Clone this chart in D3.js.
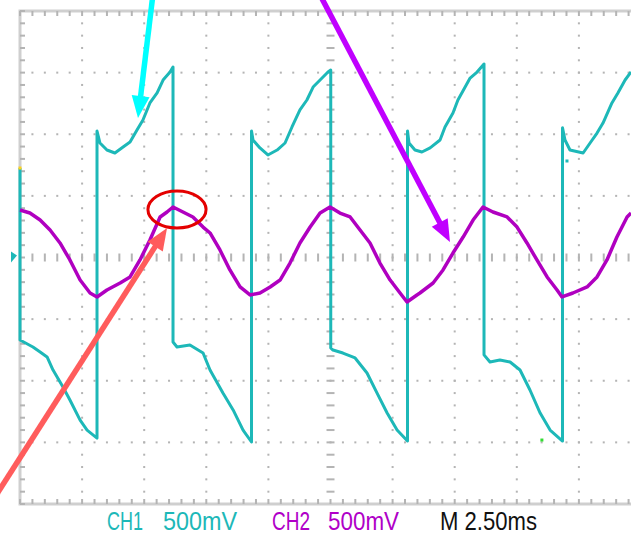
<!DOCTYPE html>
<html>
<head>
<meta charset="utf-8">
<script src="https://cdn.jsdelivr.net/npm/d3@7"></script>
<style>
  html, body { margin: 0; padding: 0; background: #fff; }
  svg { display: block; }
  .label { font-family: "Liberation Sans", Arial, sans-serif; font-size: 26px; }
</style>
</head>
<body>
<div id="scope"></div>
<script>
// screen: 10 div x 2.5 ms, 8 div x 500 mV
const timePerDiv = 2.5;      // ms
const voltPerDiv = 500;      // mV
const divsX = 10, divsY = 8, minorPerDiv = 5;

// CH1 trace, [ms, mV]
const ch1 = [
  [0, 726], [0, -669], [0.52, -726], [0.81, -767], [1.09, -807], [1.33, -913], [1.73, -1051], [2.01, -1156], [2.42, -1319], [2.70, -1400], [3.10, -1465],
  [3.10, 1026], [3.22, 929], [3.50, 872], [3.82, 848], [4.15, 897], [4.43, 937], [4.71, 1035], [4.95, 1116], [5.23, 1254], [5.52, 1335], [5.76, 1440], [6.04, 1505], [6.16, 1546],
  [6.16, -686], [6.32, -726], [6.84, -710], [7.37, -775], [7.65, -913], [8.17, -1099], [8.58, -1237], [8.98, -1400], [9.32, -1497],
  [9.32, 1026], [9.38, 953], [9.66, 889], [9.98, 832], [10.35, 872], [10.67, 929], [10.95, 1059], [11.27, 1197], [11.55, 1278], [11.80, 1383], [12.08, 1440], [12.40, 1505], [12.51, 1521],
  [12.51, -734], [12.60, -751], [13.00, -775], [13.49, -815], [13.97, -937], [14.37, -1099], [14.78, -1262], [15.18, -1400], [15.60, -1489],
  [15.60, 1026], [15.66, 929], [15.90, 872], [16.18, 856], [16.51, 889], [16.91, 953], [17.11, 1059], [17.43, 1172], [17.63, 1278], [17.92, 1383], [18.12, 1456], [18.40, 1505], [18.68, 1570],
  [18.68, -790], [18.92, -848], [19.32, -832], [19.73, -848], [20.13, -913], [20.53, -1075], [20.94, -1262], [21.34, -1400], [21.84, -1489],
  [21.84, 1053], [21.94, 953], [22.14, 872], [22.67, 848], [22.95, 929], [23.23, 1010], [23.47, 1091], [23.83, 1254], [24.07, 1335], [24.36, 1440], [24.60, 1505]
];

// CH2 trace, [ms, mV]
const ch2 = [
  [0, 385], [0.40, 361], [0.81, 304], [1.21, 223], [1.61, 118], [2.01, -20], [2.42, -183], [2.82, -288], [3.10, -320],
  [3.50, -264], [4.03, -207], [4.43, -158], [4.83, -20], [5.23, 142], [5.64, 329], [5.92, 369], [6.16, 410],
  [6.56, 369], [6.96, 329], [7.37, 247], [7.65, 199], [8.05, 61], [8.45, -101], [8.86, -239], [9.26, -304],
  [9.66, -288], [10.07, -239], [10.47, -183], [10.87, -45], [11.27, 118], [11.68, 247], [12.08, 361], [12.48, 410],
  [12.88, 361], [13.29, 329], [13.69, 223], [14.09, 118], [14.49, -45], [14.90, -183], [15.30, -288], [15.58, -361],
  [15.98, -304], [16.10, -288], [16.63, -207], [17.03, -101], [17.43, 36], [17.84, 166], [18.24, 304], [18.64, 410],
  [19.04, 369], [19.61, 329], [20.01, 247], [20.41, 118], [20.81, -20], [21.22, -158], [21.62, -264], [21.82, -320],
  [22.26, -288], [22.83, -239], [23.23, -158], [23.63, -20], [24.03, 166], [24.44, 329], [24.60, 361]
];

// stray pixels on the screen, [ms, mV, channel]
const strayDots = [[21.01, -1481, "green"], [22.02, 783, "ch1"]];

// footer readouts
const footerLabels = ["CH1", "500mV", "CH2", "500mV", "M 2.50ms"];

// annotation arrows, [from, to] in [ms, mV]
const arrows = [
  { from: [5.35, 2130], to: [4.75, 1132], color: "#00ffff" },
  { from: [12.08, 2130], to: [17.31, 126], color: "#c000ff" },
  { from: [-1.01, -1943], to: [5.92, 239], color: "#ff5c5c" }
];
const circled = { at: [6.32, 389], rx: 1.17, ry: 150 };

const W = 631, H = 535;
const C1 = "#1db8b8", C2 = "#b000c0", GRID = "#b4b4b4";

const x = d3.scaleLinear().domain([0, divsX * timePerDiv]).range([20, 641]);
const y = d3.scaleLinear().domain([-divsY / 2 * voltPerDiv, divsY / 2 * voltPerDiv]).range([504, 11]);

const svg = d3.select('#scope').append('svg')
  .attr('width', W).attr('height', H)
  .attr('viewBox', `0 0 ${W} ${H}`);

svg.append('rect').attr('width', W).attr('height', H).attr('fill', '#fff');

const grid = svg.append('g');
const minorT = timePerDiv / minorPerDiv, minorV = voltPerDiv / minorPerDiv;
const tMinor = d3.range(0, divsX * minorPerDiv + 1).map(i => i * minorT);
const vMinor = d3.range(-divsY / 2 * minorPerDiv, divsY / 2 * minorPerDiv + 1).map(i => i * minorV);

// dotted major lines
for (let i = 1; i < divsX; i++) {
  if (i === divsX / 2) continue;
  vMinor.forEach(v => grid.append('rect')
    .attr('x', x(i * timePerDiv) - 1).attr('y', y(v) - 1)
    .attr('width', 2).attr('height', 2).attr('fill', GRID));
}
for (let j = -divsY / 2 + 1; j < divsY / 2; j++) {
  if (j === 0) continue;
  tMinor.forEach(t => grid.append('rect')
    .attr('x', x(t) - 1).attr('y', y(j * voltPerDiv) - 1)
    .attr('width', 2).attr('height', 2).attr('fill', GRID));
}

// centre axes with minor dashes
const xc = x(divsX / 2 * timePerDiv), yc = y(0);
vMinor.forEach(v => grid.append('line')
  .attr('x1', xc - 4).attr('x2', xc + 4).attr('y1', y(v)).attr('y2', y(v))
  .attr('stroke', GRID).attr('stroke-width', 2));
tMinor.forEach(t => grid.append('line')
  .attr('x1', x(t)).attr('x2', x(t)).attr('y1', yc - 4).attr('y2', yc + 4)
  .attr('stroke', GRID).attr('stroke-width', 2));

// border with ticks
grid.append('rect')
  .attr('x', x(0)).attr('y', y(divsY / 2 * voltPerDiv))
  .attr('width', x(divsX * timePerDiv) - x(0))
  .attr('height', y(-divsY / 2 * voltPerDiv) - y(divsY / 2 * voltPerDiv))
  .attr('fill', 'none').attr('stroke', '#cfcfcf').attr('stroke-width', 3);
tMinor.forEach(t => {
  grid.append('line').attr('x1', x(t)).attr('x2', x(t)).attr('y1', y(2000)).attr('y2', y(2000) + 5)
    .attr('stroke', GRID).attr('stroke-width', 2);
  grid.append('line').attr('x1', x(t)).attr('x2', x(t)).attr('y1', y(-2000)).attr('y2', y(-2000) - 5)
    .attr('stroke', GRID).attr('stroke-width', 2);
});
vMinor.forEach(v => grid.append('line')
  .attr('x1', x(0)).attr('x2', x(0) + 5).attr('y1', y(v)).attr('y2', y(v))
  .attr('stroke', GRID).attr('stroke-width', 2));

// traces
const line = d3.line().x(d => x(d[0])).y(d => y(d[1]));
svg.append('path').datum(ch1).attr('d', line)
  .attr('fill', 'none').attr('stroke', C1).attr('stroke-width', 3)
  .attr('stroke-linejoin', 'round');
svg.append('path').datum(ch2).attr('d', line)
  .attr('fill', 'none').attr('stroke', C2).attr('stroke-width', 3.5)
  .attr('stroke-linejoin', 'round');

strayDots.forEach(d => svg.append('rect')
  .attr('x', x(d[0]) - 1.5).attr('y', y(d[1]) - 1.5).attr('width', 3).attr('height', 3)
  .attr('fill', d[2] === 'green' ? '#33dd33' : C1));

// channel marker and trigger point on the left edge
svg.append('path')
  .attr('d', `M${x(0) - 9},${y(0) - 6} L${x(0) - 3},${y(0) - 2} L${x(0) - 9},${y(0) + 5} Z`)
  .attr('fill', C1);
svg.append('rect').attr('x', x(0) - 1.5).attr('y', y(ch1[0][1]) - 1.5)
  .attr('width', 3).attr('height', 3).attr('fill', '#ffd21a');

// footer text
const footerX = [107, 163, 272, 328, 440];
const footerLen = [36, 74, 38, 71, 97];
const footerCol = [C1, C1, "#b000c8", "#b000c8", "#111"];
footerLabels.forEach((s, i) => svg.append('text')
  .attr('class', 'label')
  .attr('x', footerX[i]).attr('y', 530)
  .attr('textLength', footerLen[i]).attr('lengthAdjust', 'spacingAndGlyphs')
  .attr('fill', footerCol[i]).text(s));

// annotations
svg.append('ellipse')
  .attr('cx', x(circled.at[0])).attr('cy', y(circled.at[1]))
  .attr('rx', x(circled.rx) - x(0)).attr('ry', y(0) - y(circled.ry))
  .attr('fill', 'none').attr('stroke', '#e40000').attr('stroke-width', 3);

arrows.forEach(a => {
  const x0 = x(a.from[0]), y0 = y(a.from[1]), x1 = x(a.to[0]), y1 = y(a.to[1]);
  const len = Math.hypot(x1 - x0, y1 - y0);
  const ux = (x1 - x0) / len, uy = (y1 - y0) / len;
  const hl = 22, hw = 9;
  const bx = x1 - ux * hl, by = y1 - uy * hl;
  svg.append('line').attr('x1', x0).attr('y1', y0).attr('x2', bx + ux * 2).attr('y2', by + uy * 2)
    .attr('stroke', a.color).attr('stroke-width', 5.5);
  svg.append('path')
    .attr('d', `M${x1},${y1} L${bx - uy * hw},${by + ux * hw} L${bx + uy * hw},${by - ux * hw} Z`)
    .attr('fill', a.color);
});
</script>
</body>
</html>
